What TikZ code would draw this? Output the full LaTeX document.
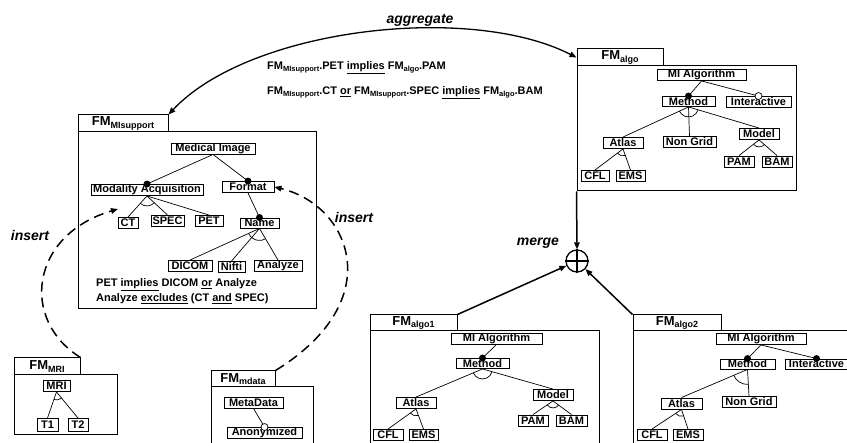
\documentclass[tikz,border=0pt]{standalone}
\usepackage{fontspec}
\setmainfont{Liberation Sans}
\usetikzlibrary{calc,arrows.meta}
\newcommand\FMl[1]{FM{\fontsize{9}{9}\selectfont\raisebox{-2.5pt}{#1}}}
\newcommand\FMs[1]{FM{\fontsize{7.5}{7.5}\selectfont\raisebox{-2pt}{#1}}}
\newcommand\altarc[4]{%
 \draw[edge] let \p1=(#1), \p2=(#2), \p3=(#3),
   \n1={atan2(\y2-\y1,\x2-\x1)}, \n2={atan2(\y3-\y1,\x3-\x1)} in
   ($(\p1)+(\n1:#4)$) arc[start angle=\n1, end angle=\n2, radius=#4];}
\begin{document}
\begin{tikzpicture}[x=1pt,y=-1pt,
 fn/.style={draw, line width=0.9pt, inner sep=0pt, minimum height=11pt, font=\fontsize{11}{12}\selectfont\bfseries},
 tab/.style={draw, line width=1pt, inner sep=0pt, font=\fontsize{13}{13}\selectfont\bfseries},
 fmbox/.style={draw, line width=1pt, inner sep=0pt},
 edge/.style={line width=0.7pt},
 mand/.style={circle, fill=black, inner sep=0pt, minimum size=7pt},
 opt/.style={circle, draw, fill=white, line width=0.7pt, inner sep=0pt, minimum size=7pt},
 lbl/.style={font=\fontsize{14}{14}\selectfont\bfseries\itshape},
 ctext/.style={anchor=west, inner sep=0pt, font=\fontsize{11}{12}\selectfont\bfseries},
 heavy/.style={line width=1.5pt, -{Triangle[length=7pt,width=5.5pt]}},
 dsh/.style={line width=1.5pt, dash pattern=on 10pt off 6pt, -{Triangle[length=7pt,width=5.5pt]}}
]
\useasboundingbox (0,0) rectangle (847,443);

% ---------------- FM_MIsupport
\node[fmbox, minimum width=238, minimum height=177] (bMI) at (197,220.5) {};
\node[tab, minimum width=90, minimum height=17] (tMI) at (123,123.5) {\FMl{MIsupport}};
\node[fn, minimum width=84] (mi) at (213,148.5) {Medical Image};
\node[fn, minimum width=112] (ma) at (147,190) {Modality Acquisition};
\node[fn, minimum width=52] (fmt) at (248,187) {Format};
\node[fn, minimum width=20] (ct) at (128,223) {CT};
\node[fn, minimum width=33] (spec) at (167.5,221) {SPEC};
\node[fn, minimum width=28] (pet) at (209,221) {PET};
\node[fn, minimum width=39, minimum height=10] (name) at (259.5,223) {Name};
\node[fn, minimum width=44] (dicom) at (190,266) {DICOM};
\node[fn, minimum width=27] (nifti) at (231.5,267) {Nifti};
\node[fn, minimum width=48] (analyze) at (278,266) {Analyze};
\node[ctext] (c1) at (96,285) {PET \underline{implies} DICOM \underline{or} Analyze};
\node[ctext] (c2) at (96,299) {Analyze \underline{excludes} (CT \underline{and} SPEC)};

\draw[edge] (mi.south) -- (ma.north);
\draw[edge] (mi.south) -- (fmt.north);
\draw[edge] (fmt.south) -- (name.north);
\node[mand] (cma) at (ma.north) {};
\node[mand] (cfmt) at (fmt.north) {};
\node[mand] (cname) at (name.north) {};
\draw[edge] (ma.south) -- (ct.north);
\draw[edge] (ma.south) -- (spec.north);
\draw[edge] (ma.south) -- (pet.north);
\altarc{ma.south}{ct.north}{spec.north}{10pt}
\draw[edge] (name.south) -- (dicom.north);
\draw[edge] (name.south) -- (nifti.north);
\draw[edge] (name.south) -- (analyze.north);
\altarc{name.south}{dicom.north}{analyze.north}{12pt}

% ---------------- FM_algo
\node[fmbox, minimum width=219, minimum height=125] (bA) at (686.5,128.5) {};
\node[tab, minimum width=86, minimum height=17] (tA) at (620,57.5) {\FMl{algo}};
\node[fn, minimum width=89] (ami) at (701.5,75) {MI Algorithm};
\node[fn, minimum width=53, minimum height=10] (ame) at (688.5,101.5) {Method};
\node[fn, minimum width=65] (ain) at (758.5,102) {Interactive};
\node[fn, minimum width=40] (aat) at (623,143) {Atlas};
\node[fn, minimum width=53] (ang) at (689.5,142) {Non Grid};
\node[fn, minimum width=40] (amo) at (759,134) {Model};
\node[fn, minimum width=30] (apam) at (739,161.5) {PAM};
\node[fn, minimum width=30] (abam) at (777,161.5) {BAM};
\node[fn, minimum width=28] (acfl) at (595,176) {CFL};
\node[fn, minimum width=29] (aems) at (630.5,176) {EMS};
\draw[edge] (ami.south) -- (ame.north);
\draw[edge] (ami.south) -- (ain.north);
\node[mand] (came) at (ame.north) {};
\node[opt] (cain) at (ain.north) {};
\draw[edge] (ame.south) -- (aat.north);
\draw[edge] (ame.south) -- (ang.north);
\draw[edge] (ame.south) -- (amo.north);
\altarc{ame.south}{aat.north}{amo.north}{10pt}
\draw[edge] (aat.south) -- (acfl.north);
\draw[edge] (aat.south) -- (aems.north);
\altarc{aat.south}{acfl.north}{aems.north}{7pt}
\draw[edge] (amo.south) -- (apam.north);
\draw[edge] (amo.south) -- (abam.north);
\altarc{amo.south}{apam.north}{abam.north}{7pt}

% ---------------- FM_algo1
\node[fmbox, minimum width=229, minimum height=139] (bA1) at (484.5,400.5) {};
\node[tab, minimum width=87, minimum height=16] (tA1) at (413.5,323) {\FMl{algo1}};
\node[fn, minimum width=91] (bmi) at (496.5,338.5) {MI Algorithm};
\node[fn, minimum width=53, minimum height=10] (bme) at (482.5,363.5) {Method};
\node[fn, minimum width=40] (bat) at (416,403) {Atlas};
\node[fn, minimum width=40] (bmo) at (553,395) {Model};
\node[fn, minimum width=30] (bpam) at (533,420.5) {PAM};
\node[fn, minimum width=31] (bbam) at (571.5,420.5) {BAM};
\node[fn, minimum width=30] (bcfl) at (388,435) {CFL};
\node[fn, minimum width=29] (bems) at (423.5,435) {EMS};
\draw[edge] (bmi.south) -- (bme.north);
\node[mand] (cbme) at (bme.north) {};
\draw[edge] (bme.south) -- (bat.north);
\draw[edge] (bme.south) -- (bmo.north);
\altarc{bme.south}{bat.north}{bmo.north}{10pt}
\draw[edge] (bat.south) -- (bcfl.north);
\draw[edge] (bat.south) -- (bems.north);
\altarc{bat.south}{bcfl.north}{bems.north}{7pt}
\draw[edge] (bmo.south) -- (bpam.north);
\draw[edge] (bmo.south) -- (bbam.north);
\altarc{bmo.south}{bpam.north}{bbam.north}{7pt}

% ---------------- FM_algo2
\node[fmbox, minimum width=247, minimum height=139] (bA2) at (756.5,400.5) {};
\node[tab, minimum width=88, minimum height=16] (tA2) at (677,323) {\FMl{algo2}};
\node[fn, minimum width=90] (cmi) at (761,339) {MI Algorithm};
\node[fn, minimum width=55, minimum height=10] (cme) at (747.5,364) {Method};
\node[fn, minimum width=63, minimum height=10] (cin) at (816.5,364) {Interactive};
\node[fn, minimum width=41] (cat) at (681.5,403.5) {Atlas};
\node[fn, minimum width=54] (cng) at (749,402) {Non Grid};
\node[fn, minimum width=30] (ccfl) at (652,435) {CFL};
\node[fn, minimum width=30] (cems) at (688,435) {EMS};
\draw[edge] (cmi.south) -- (cme.north);
\draw[edge] (cmi.south) -- (cin.north);
\node[mand] (ccme) at (cme.north) {};
\node[mand] (ccin) at (cin.north) {};
\draw[edge] (cme.south) -- (cat.north);
\draw[edge] (cme.south) -- (cng.north);
\altarc{cme.south}{cat.north}{cng.north}{15pt}
\draw[edge] (cat.south) -- (ccfl.north);
\draw[edge] (cat.south) -- (cems.north);
\altarc{cat.south}{ccfl.north}{cems.north}{7pt}

% ---------------- FM_MRI
\node[fmbox, minimum width=103, minimum height=60] (bMRI) at (65.5,405) {};
\node[tab, minimum width=66, minimum height=17] (tMRI) at (47,366.5) {\FMl{MRI}};
\node[fn, minimum width=27] (mmri) at (56.5,386) {MRI};
\node[fn, minimum width=21, minimum height=13] (mt1) at (47.5,425) {T1};
\node[fn, minimum width=20, minimum height=13] (mt2) at (78,425) {T2};
\draw[edge] (mmri.south) -- (mt1.north);
\draw[edge] (mmri.south) -- (mt2.north);
\altarc{mmri.south}{mt1.north}{mt2.north}{8pt}

% ---------------- FM_mdata
\node[fmbox, minimum width=102, minimum height=83] (bMD) at (262,428.5) {};
\node[tab, minimum width=64, minimum height=16] (tMD) at (243,379) {\FMl{mdata}};
\node[fn, minimum width=59] (dmd) at (253.5,402.5) {MetaData};
\node[fn, minimum width=75] (dan) at (264.5,433) {Anonymized};
\draw[edge] (dmd.south) -- (dan.north);
\node[opt] (cdan) at (dan.north) {};

% ---------------- top constraints
\node[ctext] (k1) at (267,68) {\FMs{MIsupport}.PET \underline{implies} \FMs{algo}.PAM};
\node[ctext] (k2) at (267,93) {\FMs{MIsupport}.CT \underline{or} \FMs{MIsupport}.SPEC \underline{implies} \FMs{algo}.BAM};

% ---------------- merge
\node[circle, draw, line width=1.3pt, minimum size=22pt, inner sep=0pt] (merge) at (577,261) {};
\draw[line width=1.3pt] (merge.north) -- (merge.south) (merge.west) -- (merge.east);
\draw[heavy] (bA.south west) -- (merge.north);
\draw[heavy] (tA1.north east) -- (merge);
\draw[heavy] (tA2.north west) -- (merge);

% ---------------- aggregate
\draw[line width=1.3pt, {Triangle[length=7pt,width=5.5pt]}-{Triangle[length=7pt,width=5.5pt]}]
  (tMI.north east) .. controls (250,28) and (470,3) .. (tA.west);

% ---------------- insert
\coordinate (insL) at (118,209);
\draw[dsh] (tMRI.north east) .. controls (20,320) and (30,235) .. (insL);
\draw[dsh] (tMD.north east) .. controls (390,300) and (350,205) .. (fmt.east);

% labels
\node[lbl] (Lagg) at (420,20) {aggregate};
\node[lbl] (Lmerge) at (538,243) {merge};
\node[lbl] (Lins1) at (30,235) {insert};
\node[lbl] (Lins2) at (354,217) {insert};
\end{tikzpicture}
\end{document}
